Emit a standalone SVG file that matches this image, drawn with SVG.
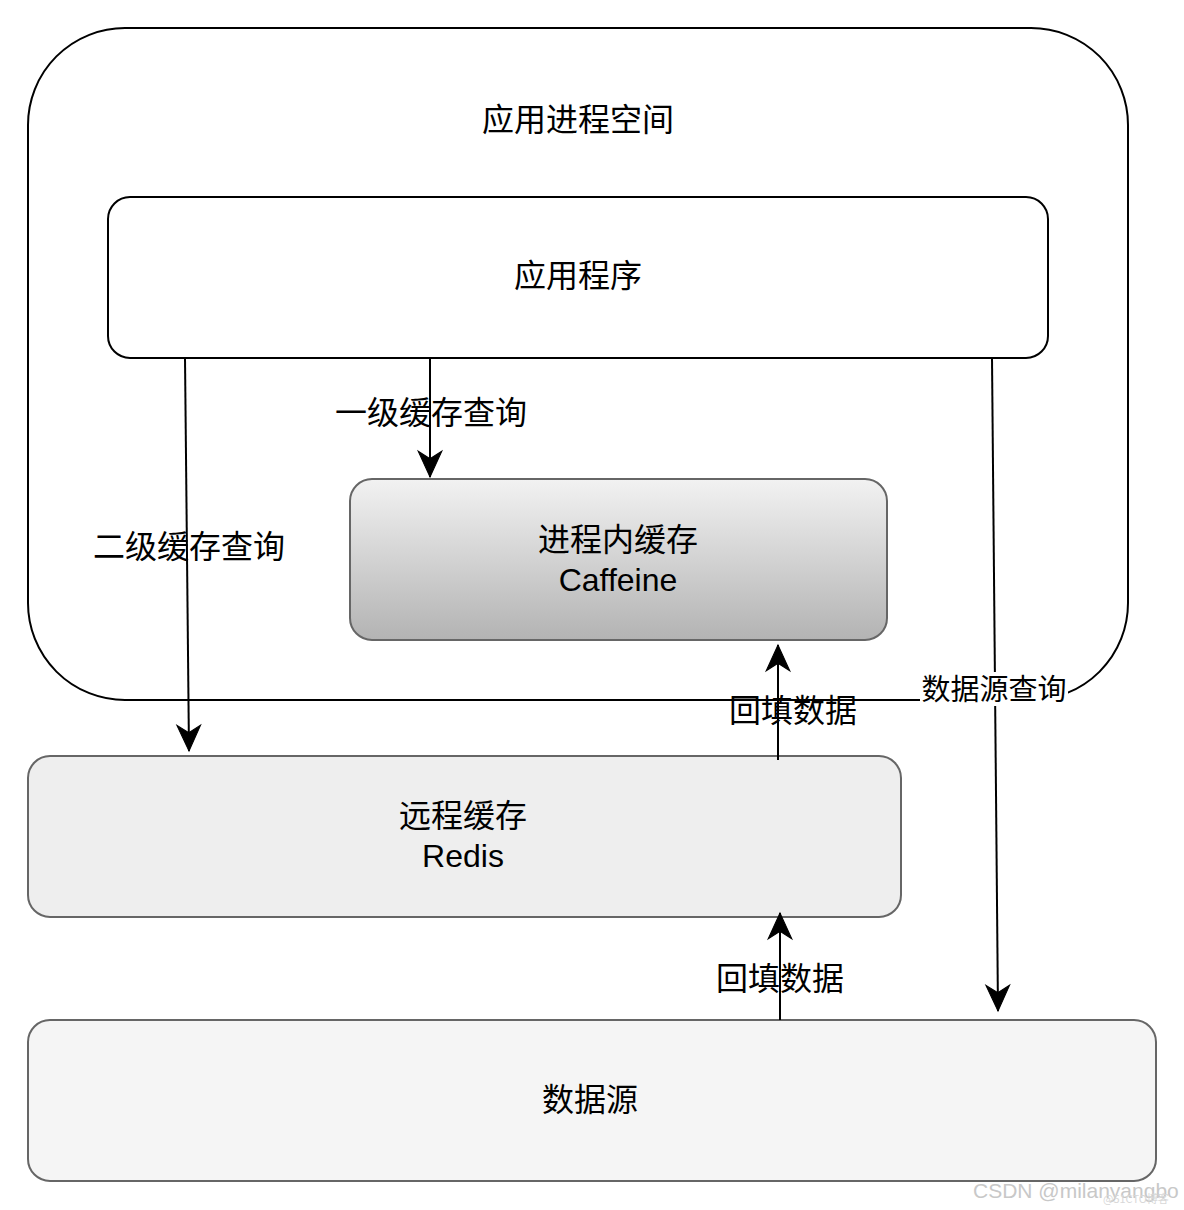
<svg xmlns="http://www.w3.org/2000/svg" width="1184" height="1210" viewBox="0 0 1184 1210">
<style>
.t{font-family:"Noto Sans CJK SC","Liberation Sans",sans-serif;font-size:32px;fill:#000;text-anchor:middle}
.l{font-family:"Liberation Sans","Noto Sans CJK SC",sans-serif;font-size:32px;fill:#000;text-anchor:middle}
.frame{fill:#fff;stroke:#000;stroke-width:2}
.box{stroke:#666;stroke-width:2}
.c{fill:none;stroke:#000;stroke-width:2}
</style>
<defs>
<linearGradient id="g" x1="0" y1="0" x2="0" y2="1">
<stop offset="0" stop-color="#f2f2f2"/>
<stop offset="1" stop-color="#b3b3b3"/>
</linearGradient>
<marker id="a" markerUnits="userSpaceOnUse" markerWidth="30" markerHeight="30" viewBox="-26 -13 28 26" refX="0" refY="0" orient="auto">
<path d="M0,0 L-24,-11 L-17,0 L-24,11 Z" fill="#000" stroke="#000" stroke-width="1"/>
</marker>
</defs>
<rect width="1184" height="1210" fill="#fff"/>
<g id="process-space">
<rect class="frame" x="28" y="28" width="1100" height="672" rx="97" ry="97"/>
<text class="t" x="578" y="131">应用进程空间</text>
</g>
<g id="app">
<rect class="frame" x="108" y="197" width="940" height="161" rx="22" ry="22"/>
<text class="t" x="578" y="287">应用程序</text>
</g>
<g id="caffeine">
<rect class="box" fill="url(#g)" x="350" y="479" width="537" height="161" rx="22" ry="22"/>
<text class="t" x="618" y="551">进程内缓存</text>
<text class="l" x="618" y="591">Caffeine</text>
</g>
<g id="redis">
<rect class="box" fill="#eeeeee" x="28" y="756" width="873" height="161" rx="22" ry="22"/>
<text class="t" x="463" y="827">远程缓存</text>
<text class="l" x="463" y="867">Redis</text>
</g>
<g id="datasource">
<rect class="box" fill="#f5f5f5" x="28" y="1020" width="1128" height="161" rx="22" ry="22"/>
<text class="t" x="590" y="1111">数据源</text>
</g>
<g id="connectors">
<line class="c" x1="430" y1="358" x2="430" y2="477" marker-end="url(#a)"/>
<text class="t" x="431" y="424">一级缓存查询</text>
<line class="c" x1="185" y1="358" x2="189" y2="751" marker-end="url(#a)"/>
<text class="t" x="189" y="558">二级缓存查询</text>
<line class="c" x1="992" y1="358" x2="998" y2="1011" marker-end="url(#a)"/>
<rect x="920" y="672" width="148" height="34" fill="#fff"/>
<text class="t" x="994" y="700" style="font-size:29px">数据源查询</text>
<line class="c" x1="778" y1="760" x2="778" y2="645" marker-end="url(#a)"/>
<text class="t" x="793" y="722">回填数据</text>
<line class="c" x1="780" y1="1020" x2="780" y2="913" marker-end="url(#a)"/>
<text class="t" x="780" y="990">回填数据</text>
</g>
<g id="watermark">
<text x="973" y="1198" font-family="Liberation Sans, sans-serif" font-size="21" fill="#c8c8c8">CSDN @milanyangbo</text>
<text x="1103" y="1203" font-family="Noto Sans CJK SC, sans-serif" font-size="11" fill="#d8d8d8">@51CTO博客</text>
</g>
</svg>
